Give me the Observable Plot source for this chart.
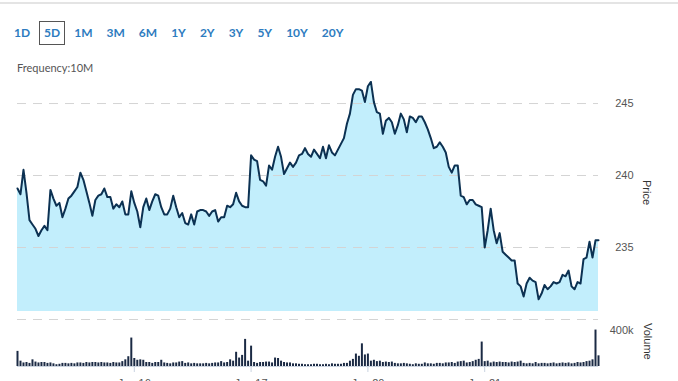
<!DOCTYPE html>
<html><head><meta charset="utf-8">
<script src="https://cdn.jsdelivr.net/npm/d3@7"></script>
<script src="https://cdn.jsdelivr.net/npm/@observablehq/plot@0.6"></script>
<style>
body{margin:0;background:#fff;font-family:Lato,sans-serif;}
#wrap{position:relative;width:678px;height:381px;overflow:hidden;}
#topline{position:absolute;left:0;top:2px;width:678px;height:2px;background:#e4e4e4;}
#ranges{position:absolute;left:9px;top:21px;display:flex;}
.rb{font:bold 12px Lato,sans-serif;color:#2e7cc0;padding:5px 4px;border:1px solid transparent;margin-right:4px;line-height:12px;}
.rb.on{border-color:#555;}
#freq{position:absolute;left:17px;top:61px;font:11px Lato,sans-serif;color:#555;}
#price{position:absolute;left:0;top:80px;}
#vol{position:absolute;left:0;top:320px;}
.vlab{position:absolute;font:11px "Liberation Sans",Arial,sans-serif;color:#333;writing-mode:vertical-rl;}
</style>
</head><body>
<div id="wrap">
  <div id="topline"></div>
  <div id="ranges"></div>
  <div id="freq"></div>
  <div id="price"></div>
  <div id="vol"></div>
  <div class="vlab" id="plab" style="left:641px;top:180px;"></div>
  <div class="vlab" id="vlab" style="left:642px;top:323px;"></div>
</div>
<script>
const rangeButtons = ["1D","5D","1M","3M","6M","1Y","2Y","3Y","5Y","10Y","20Y"];
const activeRange = "5D";
const frequencyText = "Frequency:10M";
const priceAxisTitle = "Price";
const volumeAxisTitle = "Volume";
const dayLabels = ["Jan 16","Jan 17","Jan 20","Jan 21"];
const dayStarts = [39, 78, 117, 156];
const priceGrid = [230, 235, 240, 245];
const priceTickLabels = [235, 240, 245];
const volumeTicks = [400];
const areaBase = 230.55;

const prices = [
239.1,238.7,240.4,238.8,236.9,236.6,236.3,235.8,236.2,236.5,236.2,239.0,238.4,237.9,238.1,237.1,237.7,238.4,238.6,238.9,
239.2,240.2,239.7,238.9,238.1,237.2,238.3,238.6,238.7,239.1,238.5,238.5,237.7,238.0,237.8,238.2,237.3,237.3,238.9,238.1,
237.5,236.4,237.8,238.4,237.6,238.2,238.7,238.6,237.8,237.3,237.3,237.7,238.6,237.8,237.1,237.4,236.7,236.6,237.3,236.6,
237.5,237.6,237.6,237.5,237.2,237.5,237.6,236.8,237.1,237.1,237.9,237.8,238.0,238.8,238.2,237.9,237.8,237.8,241.4,241.1,
241.0,239.7,239.6,239.3,240.7,240.4,241.3,242.0,241.3,240.1,240.5,240.9,240.6,240.9,241.4,241.5,241.9,241.5,241.3,241.8,
241.5,241.2,242.0,241.2,242.1,
241.6,241.4,241.8,242.2,242.6,243.6,244.3,245.6,246.0,246.0,245.9,245.1,246.2,246.5,245.1,244.4,244.3,242.9,243.8,244.0,
243.7,242.9,243.5,244.3,243.9,243.0,244.1,244.0,243.7,244.1,244.1,243.7,243.2,242.6,241.9,242.0,242.3,242.0,241.6,240.6,
240.2,240.7,240.7,238.6,238.5,238.0,238.3,238.3,238.0,237.9,237.8,235.0,236.2,237.7,236.2,235.3,236.0,234.7,234.5,234.3,
234.1,234.1,232.5,232.3,231.6,232.5,232.9,232.7,232.6,231.4,231.8,232.4,232.1,232.3,232.6,232.5,232.6,233.1,233.0,233.4,
232.3,232.1,232.6,232.5,234.2,234.3,235.4,234.3,235.5,235.5
];

// volume in thousands
const volumes = [
170,60,40,45,35,75,50,40,45,45,35,40,30,20,25,35,35,30,35,30,40,40,35,45,40,45,45,40,45,40,40,35,45,40,40,55,75,110,320,
90,70,75,70,45,45,35,45,45,70,40,35,30,40,40,50,55,35,40,30,35,30,30,30,35,30,35,40,40,55,40,45,75,60,160,95,125,305,60,
229,45,35,45,45,50,50,40,95,90,60,45,40,40,30,30,25,25,20,20,20,25,25,20,20,25,20,30,25,25,25,35,35,60,80,140,115,255,130,
140,60,70,55,60,45,50,45,50,35,30,30,35,30,25,20,30,25,25,40,30,30,25,35,35,30,40,40,45,35,50,55,60,40,45,55,70,80,275,
55,60,40,50,45,50,45,45,40,50,45,50,60,35,30,35,30,45,30,35,35,30,35,40,30,35,40,35,40,30,35,45,40,45,55,60,75,410,120
];

// header
const rb = document.getElementById("ranges");
rangeButtons.forEach(r => {
  const s = document.createElement("span");
  s.className = "rb" + (r === activeRange ? " on" : "");
  s.textContent = r;
  rb.appendChild(s);
});
document.getElementById("freq").textContent = frequencyText;
document.getElementById("plab").textContent = priceAxisTitle;
document.getElementById("vlab").textContent = volumeAxisTitle;

const rows = prices.map((p, i) => ({i, price: p, vol: volumes[i]}));
const xDomain = [0, prices.length - 1];
const W = 678;
const axisStyle = {fontFamily: "'Liberation Sans', Arial, sans-serif", fontSize: "11px", color: "#555", background: "transparent", overflow: "visible"};

const pricePlot = Plot.plot({
  width: W, height: 240, marginLeft: 17, marginRight: 80, marginTop: 0, marginBottom: 1,
  x: {domain: xDomain, axis: null},
  y: {domain: [230, 246.6], axis: null},
  style: axisStyle,
  marks: [
    Plot.areaY(rows, {x: "i", y1: areaBase, y2: "price", fill: "#c2eefc"}),
    Plot.ruleY(priceGrid, {stroke: "#d4d4d4", strokeDasharray: "9,7", strokeWidth: 1}),
    Plot.lineY(rows, {x: "i", y: "price", stroke: "#0c3152", strokeWidth: 2}),
    Plot.axisY(priceTickLabels, {anchor: "right", tickSize: 0, tickPadding: 35, textAnchor: "end", label: null, fill: "#555"})
  ]
});
document.getElementById("price").appendChild(pricePlot);

const volPlot = Plot.plot({
  width: W, height: 61, marginLeft: 17, marginRight: 80, marginTop: 6, marginBottom: 15,
  x: {domain: xDomain},
  y: {domain: [0, 450]},
  style: axisStyle,
  marks: [
    Plot.ruleY([0], {stroke: "#cdd6e2"}),
    Plot.ruleX(rows, {x: "i", y1: 0, y2: "vol", stroke: "#1b2a44", strokeWidth: 2}),
    Plot.axisX(dayStarts, {tickSize: 6, tickPadding: 7, stroke: "#c9d3e0", fill: "#555", label: null,
      tickFormat: d => dayLabels[dayStarts.indexOf(d)]}),
    Plot.axisY(volumeTicks, {anchor: "right", tickSize: 0, tickPadding: 35, textAnchor: "end", label: null, fill: "#555",
      tickFormat: d => d + "k"})
  ]
});
document.getElementById("vol").appendChild(volPlot);
</script>
</body></html>
